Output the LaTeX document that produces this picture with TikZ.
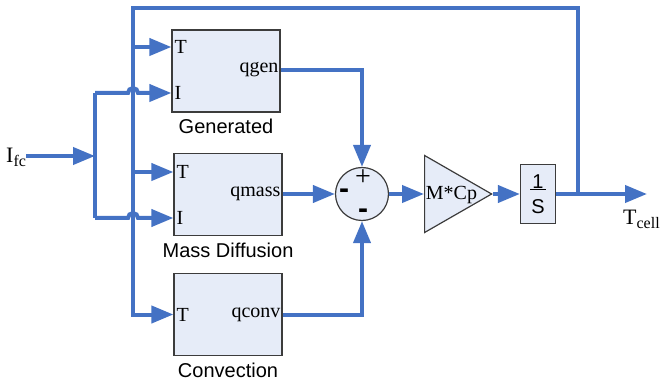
\documentclass[tikz,border=0pt]{standalone}
\usepackage{fontspec}
\setmainfont{Liberation Serif}
\newfontfamily\labelfont{Liberation Sans}
\usetikzlibrary{arrows.meta,positioning,shapes.geometric,calc}
\definecolor{wireblue}{RGB}{68,114,196}
\definecolor{blockfill}{RGB}{230,236,248}
\definecolor{blockline}{RGB}{60,60,60}
\newcommand{\lowsub}[1]{\raisebox{-4pt}{\fontsize{16}{16}\selectfont #1}}

\begin{document}
\begin{tikzpicture}[
  x=1pt, y=1pt,
  box/.style={draw=blockline, line width=1.2pt, fill=blockfill, minimum width=108pt, minimum height=82pt, inner sep=0pt},
  wire/.style={draw=wireblue, line width=4pt},
  arrow/.style={wire, -{Triangle[length=22pt,width=17pt]}},
  port/.style={font=\fontsize{20}{22}\selectfont, inner sep=3pt},
  caption/.style={font=\labelfont\fontsize{20}{22}\selectfont, inner sep=0pt},
  sign/.style={inner sep=0pt},
  minus/.style={sign, font=\labelfont\bfseries\fontsize{30}{30}\selectfont}
]
\useasboundingbox (0,0) rectangle (665,381);

% blocks
\node[box] (gen) at (226,310) {};
\node[box] (mass) at (228,186.5) {};
\node[box] (conv) at (228,66.5) {};
\node[draw=blockline, line width=1.2pt, fill=blockfill, circle, minimum size=53pt, inner sep=0pt] (sum) at (362,187) {};
\node[draw=blockline, line width=1.2pt, fill=blockfill, isosceles triangle, isosceles triangle stretches,
  minimum width=77pt, minimum height=67pt, inner sep=0pt, anchor=west] (gain) at (424,187) {};
\node[box, minimum width=35pt, minimum height=59pt] (integ) at (538,187) {};

% ports
\coordinate (genT) at (gen.west |- 0,334);
\coordinate (genI) at (gen.west |- 0,288);
\coordinate (qgen) at (gen.east |- 0,311);
\coordinate (massT) at (mass.west |- 0,209);
\coordinate (massI) at (mass.west |- 0,163);
\coordinate (qmass) at (mass.east |- sum);
\coordinate (convT) at (conv.west);
\coordinate (qconv) at (conv.east);

% texts
\node[port, anchor=west] (genTlab) at (genT) {T};
\node[port, anchor=west] (genIlab) at (genI) {I};
\node[port, anchor=east, inner sep=2pt] (qgenlab) at (qgen) {qgen};
\node[port, anchor=west] (massTlab) at (massT) {T};
\node[port, anchor=west] (massIlab) at (massI) {I};
\node[port, anchor=east, inner sep=2pt] (qmasslab) at (qmass) {qmass};
\node[port, anchor=west] (convTlab) at (convT) {T};
\node[port, anchor=east, inner sep=2pt] (qconvlab) at (qconv) {qconv};
\node[caption, anchor=base] (genlab) at ($(gen.south)+(0,-21)$) {Generated};
\node[caption, anchor=base] (masslab) at ($(mass.south)+(0,-21)$) {Mass Diffusion};
\node[caption, anchor=base] (convlab) at ($(conv.south)+(0,-21)$) {Convection};
\node[font=\fontsize{20}{22}\selectfont, inner sep=0pt] (gainlab) at (451.5,186) {M*Cp};
\node[font=\labelfont\fontsize{20}{25}\selectfont, align=center, inner sep=0pt] (integlab) at (integ) {\underline{\hspace{2pt}1\hspace{2pt}}\\S};
\node[sign, font=\fontsize{28}{28}\selectfont] (plus) at (363,203) {+};
\node[minus] (minusA) at (344,187) {-};
\node[minus] (minusB) at (363,167) {-};
\node[font=\fontsize{22}{24}\selectfont, anchor=base west, inner sep=0pt] (ifc) at (6,218) {I\lowsub{fc}};
\node[font=\fontsize{22}{24}\selectfont, anchor=base west, inner sep=0pt] (tcell) at (623,157) {T\lowsub{cell}};

% wires
\coordinate (isplit) at (95,225);
\coordinate (tfeed) at (133,373);
\coordinate (branch) at (578,187);
\coordinate (out) at (647,187);

\draw[arrow] (ifc.east |- isplit) -- (isplit);
\draw[wire] (isplit |- genI) -- (isplit |- massI);
\draw[arrow] (isplit |- genI) -- ($(tfeed |- genI)+(-5,0)$) arc[start angle=180, end angle=0, radius=5] -- (genI);
\draw[arrow] (isplit |- massI) -- ($(tfeed |- massI)+(-5,0)$) arc[start angle=180, end angle=0, radius=5] -- (massI);
\draw[arrow] (branch) |- (tfeed) |- (convT);
\draw[arrow] (tfeed |- genT) -- (genT);
\draw[arrow] (tfeed |- massT) -- (massT);
\draw[arrow] (qgen) -| (sum.north);
\draw[arrow] (qmass) -- (sum.west);
\draw[arrow] (qconv) -| (sum.south);
\draw[arrow] (sum.east) -- (gain.west);
\draw[arrow] (gain.east) -- (integ.west);
\draw[arrow] (integ.east) -- (out);
\end{tikzpicture}
\end{document}
